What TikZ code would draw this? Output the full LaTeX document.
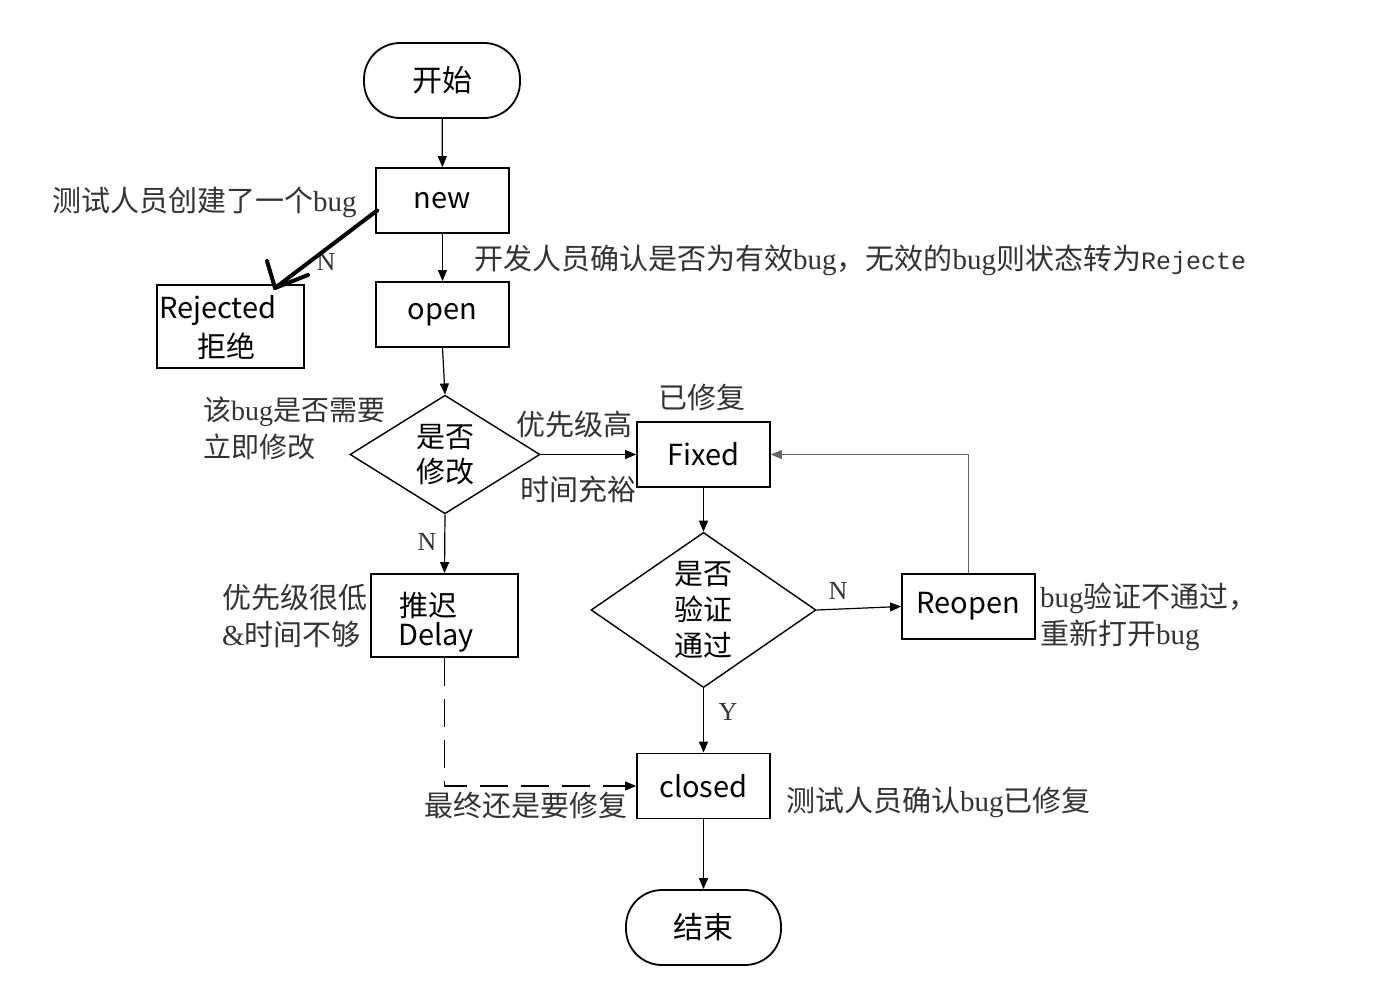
\documentclass[tikz,border=0pt]{standalone}
\usepackage{fontspec}
\setmainfont{Liberation Serif}
\newfontfamily\cjk{Noto Sans CJK SC}
\newfontfamily\monof{Liberation Mono}
\newcommand\zh[1]{{\cjk #1}}
\usetikzlibrary{shapes.geometric,arrows.meta}
\tikzset{
 lbl/.style={font=\cjk\fontsize{29}{35}\selectfont, inner sep=0},
 box/.style={draw, line width=1.8pt, inner sep=0, minimum width=133pt, minimum height=65pt, lbl},
 term/.style={draw, line width=1.8pt, rounded corners=36pt, minimum width=156pt, minimum height=75pt, inner sep=0, font=\cjk\fontsize{30}{36}\selectfont},
 dia/.style={draw, diamond, line width=1.4pt, inner sep=0, font=\cjk\fontsize{29}{36}\selectfont, align=center},
 note/.style={font=\fontsize{29}{37}\selectfont, text=black!80, inner sep=0, align=left},
 arr/.style={-{Triangle[length=11pt,width=9pt]}, line width=1.2pt},
}
\begin{document}
\begin{tikzpicture}[x=1pt,y=-1pt]
\useasboundingbox[fill=white] (0,0) rectangle (1395,982);
% nodes
\node[term] (start) at (442,80.5) {开始};
\node[box] (new) at (442.5,200.5) {new};
\node[box] (open) at (442.5,314.5) {open};
\node[box, minimum width=147pt, minimum height=83pt] (rej) at (230.5,326.5) {};
\node[lbl, anchor=west] (rejt) at (159,310) {Rejected};
\node[lbl] (rejz) at (226,346) {拒绝};
\node[dia, minimum width=190pt, minimum height=115pt] (d1) at (445,454.5) {是否\\[-1pt]修改};
\node[box] (fixed) at (703.5,454.5) {Fixed};
\node[dia, minimum width=225pt, minimum height=146pt] (d2) at (703.5,610) {是否\\验证\\通过};
\node[box] (reopen) at (968.5,606.5) {Reopen};
\node[box, minimum width=147pt, minimum height=83pt] (delay) at (444.5,615.5) {};
\node[lbl, anchor=west] (delz) at (399,605) {推迟};
\node[lbl, anchor=west] (delt) at (398,637) {Delay};
\node[box] (closed) at (703.5,786) {closed};
\node[term, minimum width=155pt] (end) at (703.5,927.5) {结束};
% notes
\node[note, anchor=west] (n1) at (52,202) {\zh{测试人员创建了一个}bug};
\node[note, anchor=west] (n2) at (474,260) {\zh{开发人员确认是否为有效}bug\zh{，无效的}bug\zh{则状态转为}{\monof\fontsize{25}{30}\selectfont Rejecte}};
\node[note, font=\fontsize{26}{30}\selectfont] (nN1) at (326,262) {N};
\node[note, anchor=west, font=\fontsize{28}{37}\selectfont] (n3) at (203,428.5) {\zh{该}bug\zh{是否需要}\\\zh{立即修改}};
\node[note] (n4) at (574,425) {\zh{优先级高}};
\node[note] (n5) at (578,489) {\zh{时间充裕}};
\node[note] (n6) at (702,397) {\zh{已修复}};
\node[note, font=\fontsize{26}{30}\selectfont] (nN2) at (427,542) {N};
\node[note, anchor=west] (n7) at (222,615.5) {\zh{优先级很低}\\\&\zh{时间不够}};
\node[note, font=\fontsize{26}{30}\selectfont] (nN3) at (838,591) {N};
\node[note, font=\fontsize{26}{30}\selectfont] (nY) at (728,712) {Y};
\node[note, anchor=west] (n8) at (1040,617) {bug\zh{验证不通过，}\\\zh{重新打开}bug};
\node[note, anchor=west] (n9) at (424,805) {\zh{最终还是要修复}};
\node[note, anchor=west] (n10) at (786,802) {\zh{测试人员确认}bug\zh{已修复}};
% connectors
\draw[arr] (start) -- (new);
\draw[arr] (new) -- (open);
\draw[arr] (open.south) -- (d1.north);
\draw[arr] (d1.east) -- (fixed.west);
\draw[arr] (d1.south) -- (delay.north);
\draw[arr] (fixed) -- (d2);
\draw[arr] (d2.east) -- (reopen.west);
\draw[arr] (d2) -- (closed);
\draw[arr] (closed) -- (end);
\draw[arr, draw=black!60] (reopen.north) |- (fixed.east);
\draw[arr, dash pattern=on 28pt off 13pt] (delay.south) |- (closed.west);
% hand-drawn thick arrow
\coordinate (hs) at ([xshift=2pt,yshift=-10pt]new.west);
\coordinate (ht) at (275,288);
\draw[line width=4pt, line cap=round] (hs) -- (ht);
\draw[line width=4pt, line cap=round, line join=round] (267,261) -- (ht) -- (308,275);
\end{tikzpicture}
\end{document}
